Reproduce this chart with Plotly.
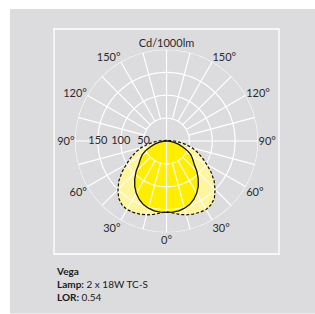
import numpy as np
import plotly.graph_objects as go

# ---- data (cd/1000lm, half-plane, symmetric) ----
angles_deg = [0, 5, 10, 15, 20, 25, 30, 35, 40, 45, 50, 55, 60, 65, 70, 75, 80, 85, 90,
              95, 100, 110, 120, 130, 140, 150, 160, 170, 180]
solid_cd = [156, 156, 155, 152, 148, 141, 132, 121, 108, 94, 79, 70, 62, 51, 38, 27, 17, 8, 3,
            1, 0, 0, 0, 0, 0, 0, 0, 0, 0]
dashed_cd = [155, 158, 163, 167, 170, 172, 173, 170, 163, 150, 136, 119, 101, 86, 72, 58, 42, 28, 17,
             10, 6, 3, 2, 2, 2, 2, 2, 2, 2]

ring_values = [50, 100, 150, 200]
radial_labels = ["50", "100", "150"]
angle_tickvals = [0, 30, 60, 90, 120, 150, 180, 210, 240, 270, 300, 330]
angle_ticktext = ["0°", "30°", "60°", "90°", "120°", "150°", "Cd/1000lm",
                  "150°", "120°", "90°", "60°", "30°"]
spoke_step = 15

title_name = "Vega"
lamp_text = "2 x 18W TC-S"
lor_text = "0.54"

# ---- colours ----
GREY = "#DCDCDE"
LIGHT_Y = "#FFF59E"
BRIGHT_Y = "#FFEE00"
FONT = "Lato, 'Open Sans', sans-serif"
TXT = "#2a2a2a"


def mirror(a, v):
    th = list(a) + [-x for x in reversed(a[:-1])]
    rv = list(v) + list(reversed(v[:-1]))
    return rv, th


fig = go.Figure()

r_d, t_d = mirror(angles_deg, dashed_cd)
r_s, t_s = mirror(angles_deg, solid_cd)

# fills
fig.add_trace(go.Scatterpolar(r=r_d, theta=t_d, mode="lines", fill="toself",
                              fillcolor=LIGHT_Y, line=dict(width=0, color=LIGHT_Y),
                              hoverinfo="skip"))
fig.add_trace(go.Scatterpolar(r=r_s, theta=t_s, mode="lines", fill="toself",
                              fillcolor=BRIGHT_Y, line=dict(width=0, color=BRIGHT_Y),
                              hoverinfo="skip"))

# grid: rings
gr, gt = [], []
circ = list(range(0, 361, 2))
for rv in ring_values:
    gr += [rv] * len(circ) + [None]
    gt += circ + [None]
# spokes (from the 50 ring outwards); main axes from centre
rmax = ring_values[-1]
for a in range(0, 360, spoke_step):
    if a in (0, 90, 180):
        gr += [0, rmax, None]
        gt += [a, a, None]
    elif a == 270:
        gr += [168, rmax, None]
        gt += [a, a, None]
    else:
        gr += [ring_values[0], rmax, None]
        gt += [a, a, None]
fig.add_trace(go.Scatterpolar(r=gr, theta=gt, mode="lines", connectgaps=False,
                              line=dict(color="white", width=1.2), hoverinfo="skip"))

# outlines
fig.add_trace(go.Scatterpolar(r=r_d, theta=t_d, mode="lines",
                              line=dict(color="#111", width=1.2, dash="3px,2px"),
                              hoverinfo="skip"))
fig.add_trace(go.Scatterpolar(r=r_s, theta=t_s, mode="lines",
                              line=dict(color="#111", width=1.3), hoverinfo="skip"))

# radial value labels on the left horizontal axis
fig.add_trace(go.Scatterpolar(r=ring_values[:3], theta=[270] * 3, mode="text",
                              text=radial_labels, textposition="middle center",
                              textfont=dict(family=FONT, size=11, color=TXT),
                              hoverinfo="skip"))

fig.update_layout(
    width=315, height=314,
    margin=dict(l=0, r=0, t=0, b=0),
    paper_bgcolor="white",
    showlegend=False,
    polar=dict(
        domain=dict(x=[75 / 315, 258 / 315], y=[1 - 232.5 / 314, 1 - 49.5 / 314]),
        bgcolor="rgba(0,0,0,0)",
        radialaxis=dict(range=[0, rmax], showgrid=False, showline=False,
                        showticklabels=False, ticks=""),
        angularaxis=dict(rotation=270, direction="counterclockwise",
                         tickmode="array", tickvals=angle_tickvals, ticktext=angle_ticktext,
                         showgrid=False, showline=False, ticks="",
                         tickfont=dict(family=FONT, size=11, color=TXT)),
    ),
    shapes=[
        dict(type="rect", xref="paper", yref="paper", x0=10 / 315, x1=1,
             y0=1 - 313.5 / 314, y1=1 - 9 / 314, fillcolor=GREY, line=dict(width=0),
             layer="below"),
        dict(type="rect", xref="paper", yref="paper", x0=54 / 315, x1=279 / 315,
             y0=1 - 254 / 314, y1=1 - 29 / 314, fillcolor="rgba(0,0,0,0)",
             line=dict(color="white", width=1.3), layer="below"),
    ],
    annotations=[
        dict(xref="paper", yref="paper", x=54 / 315, y=1 - 263 / 314,
             xanchor="left", yanchor="top", align="left", showarrow=False,
             text=f"<b>{title_name}</b><br><b>Lamp:</b> {lamp_text}<br><b>LOR:</b> {lor_text}",
             font=dict(family=FONT, size=10, color="#1a1a1a")),
    ],
)

fig.write_html("out.html", config={"displayModeBar": False},
               post_script="document.body.style.margin='0';document.body.style.overflow='hidden';")
